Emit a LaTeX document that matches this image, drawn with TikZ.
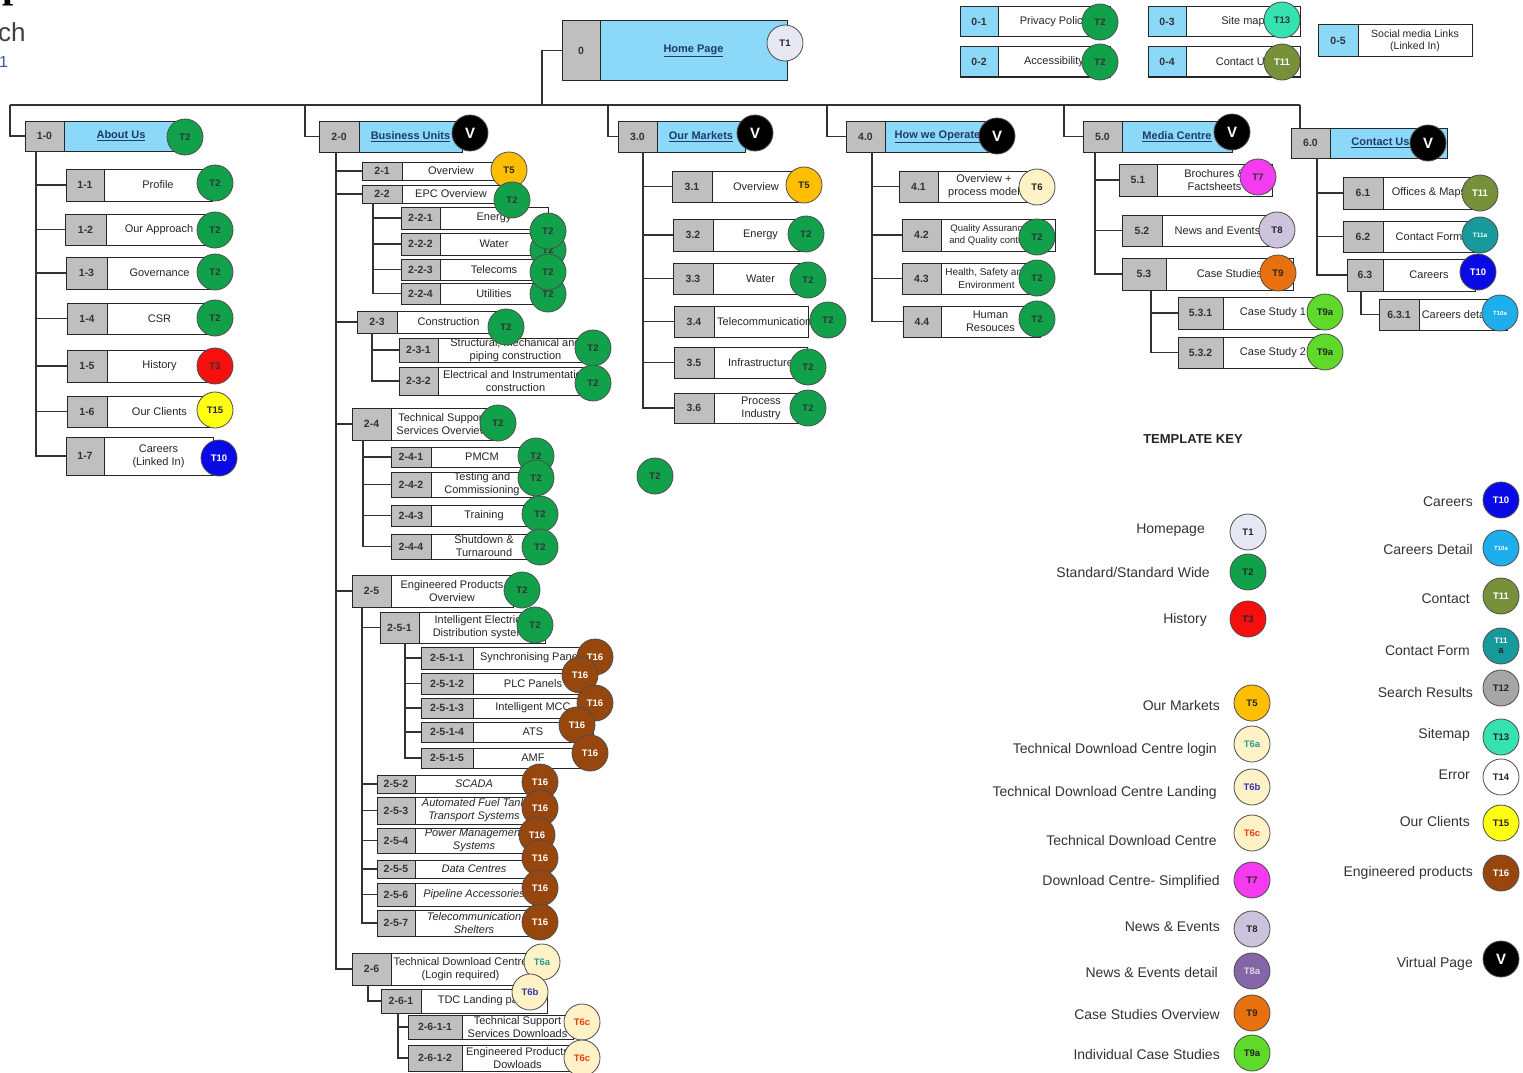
\documentclass[tikz,border=0pt]{standalone}
\usepackage{fontspec}
\setmainfont{Liberation Sans}
\newfontfamily\serifface{Liberation Serif}
\definecolor{idgrey}{HTML}{BFBFBF}
\definecolor{hdblue}{HTML}{8CD8F8}
\definecolor{navy}{HTML}{1F3A6E}
\definecolor{cT1}{HTML}{E6E8F4}
\definecolor{cT2}{HTML}{12A14B}
\definecolor{cT3}{HTML}{F50F0F}
\definecolor{cT5}{HTML}{FFBF00}
\definecolor{cT6}{HTML}{FFF2C6}
\definecolor{cT7}{HTML}{F53BF0}
\definecolor{cT8}{HTML}{CDC3DD}
\definecolor{cT8a}{HTML}{8466A8}
\definecolor{cT9}{HTML}{E8700E}
\definecolor{cT9a}{HTML}{5FD92A}
\definecolor{cT10}{HTML}{0A0AE6}
\definecolor{cT10a}{HTML}{1DAEEB}
\definecolor{cT11}{HTML}{77913A}
\definecolor{cT11a}{HTML}{179A9C}
\definecolor{cT12}{HTML}{A6A6A6}
\definecolor{cT13}{HTML}{35E3B1}
\definecolor{cT15}{HTML}{FFFF14}
\definecolor{cT16}{HTML}{97470E}
\definecolor{t6a}{HTML}{2A9D8F}
\definecolor{t6b}{HTML}{3333AA}
\definecolor{t6c}{HTML}{F03C14}
\definecolor{vercol}{HTML}{3A5A8A}
\tikzset{
 cell/.style={rectangle, draw=black!85, line width=1pt, inner sep=0pt, outer sep=0pt},
 idc/.style={cell, fill=idgrey, font=\bfseries\fontsize{10.5}{12}\selectfont, text=black!80},
 idb/.style={cell, fill=hdblue, font=\bfseries\fontsize{10.5}{12}\selectfont, text=black!80},
 lbc/.style={cell, fill=white},
 hdc/.style={cell, fill=hdblue},
 lbt/.style={inner sep=0pt, align=center, font=\fontsize{11}{13}\selectfont, text=black!85},
 conn/.style={draw=black!80, line width=1.2pt},
 bdg/.style={circle, draw=black!70, line width=0.8pt, minimum size=36pt, inner sep=0pt, align=center, font=\bfseries\fontsize{9.5}{10}\selectfont, text=black!85},
 keyt/.style={anchor=east, inner sep=0pt, font=\fontsize{14}{16}\selectfont, text=black!80},
}
\newcommand\hd[1]{{\bfseries\color{navy}\underline{#1}}}
\newcommand\pg[9][]{%
 \node[idc, minimum width={#5-#3}, minimum height={#7-#4}] (#2i) at ({(#3+#5)/2},{(#4+#7)/2}) {#8};
 \node[lbc, minimum width={#6-#5}, minimum height={#7-#4}] (#2) at ({(#5+#6)/2},{(#4+#7)/2}) {};
 \node[lbt,#1] (#2t) at (#2.center) {#9};}
\newcommand\hg[9][]{%
 \node[idc, minimum width={#5-#3}, minimum height={#7-#4}] (#2i) at ({(#3+#5)/2},{(#4+#7)/2}) {#8};
 \node[hdc, minimum width={#6-#5}, minimum height={#7-#4}] (#2) at ({(#5+#6)/2},{(#4+#7)/2}) {};
 \node[lbt,#1] (#2t) at (#2.center) {#9};}
\newcommand\ug[9][]{%
 \node[idb, minimum width={#5-#3}, minimum height={#7-#4}] (#2i) at ({(#3+#5)/2},{(#4+#7)/2}) {#8};
 \node[lbc, minimum width={#6-#5}, minimum height={#7-#4}] (#2) at ({(#5+#6)/2},{(#4+#7)/2}) {};
 \node[lbt,#1] (#2t) at (#2.center) {#9};}
\newcommand\bd[6]{\node[bdg, fill=#4, text=#5] (#1) at (#2,#3) {#6};}
\newcommand\ch[3]{\draw[conn] ([xshift=#2pt]#1i.south west) |- (#3i.west);}
\newcommand\kk[8]{\node[keyt] (#1t) at (#3,#4) {#2}; \node[bdg, fill=#7] (#1) at (#5,#6) {#8};}
\begin{document}
\begin{tikzpicture}[x=1pt,y=-1pt]
\useasboundingbox (0,0) rectangle (1523,1073);
\fill[white] (0,0) rectangle (1523,1073);
\clip (0,0) rectangle (1523,1073);
% title fragments
\node[anchor=base west, inner sep=0pt, font=\serifface\bfseries\fontsize{40}{40}\selectfont] (ttp) at (2,-2) {p};
\node[anchor=west, inner sep=0pt, font=\fontsize{26}{28}\selectfont, text=black!75] (ttl) at (-2,32) {ch};
\node[anchor=west, inner sep=0pt, font=\fontsize{16}{18}\selectfont, text=vercol] (ver) at (-1,62) {1};
% ---------- boxes ----------
\hg{home}{562}{21}{600}{787}{80}{0}{\hd{Home Page}}
\ug{u1}{960}{7}{998}{1110}{37}{0-1}{Privacy Policy}
\ug{u2}{960}{47}{998}{1110}{77}{0-2}{Accessibility}
\ug{u3}{1148}{7}{1186}{1300}{37}{0-3}{Site map}
\ug{u4}{1148}{47}{1186}{1300}{77}{0-4}{Contact Us}
\ug[font=\fontsize{10.5}{12.5}\selectfont]{u5}{1318}{25}{1358}{1472}{57}{0-5}{Social media Links\\(Linked In)}
% section 1
\hg{s1}{25}{121}{64}{178}{151}{1-0}{\hd{About Us}}
\pg{s11}{66}{169}{104}{212}{201}{1-1}{Profile}
\pg{s12}{65}{214}{106}{212}{245}{1-2}{Our Approach}
\pg{s13}{66}{257}{107}{212}{289}{1-3}{Governance}
\pg{s14}{67}{303}{107}{212}{334}{1-4}{CSR}
\pg{s15}{67}{350}{107}{212}{382}{1-5}{History}
\pg{s16}{67}{396}{107}{212}{427}{1-6}{Our Clients}
\pg{s17}{66}{437}{104}{213}{475}{1-7}{Careers\\(Linked In)}
% section 2
\hg{s2}{319}{121}{359}{462}{152}{2-0}{\hd{Business Units}}
\pg{s21}{362}{162}{402}{500}{180}{2-1}{Overview}
\pg{s22}{362}{185}{402}{500}{203}{2-2}{EPC Overview}
\pg{s221}{401}{207}{440}{548}{229}{2-2-1}{Energy}
\pg{s222}{401}{233}{440}{548}{255}{2-2-2}{Water}
\pg{s223}{401}{259}{440}{548}{280}{2-2-3}{Telecoms}
\pg{s224}{401}{283}{440}{548}{304}{2-2-4}{Utilities}
\pg{s23}{357}{311}{397}{500}{333}{2-3}{Construction}
\pg{s231}{399}{338}{438}{593}{362}{2-3-1}{Structural, mechanical and\\piping construction}
\pg{s232}{399}{367}{438}{593}{395}{2-3-2}{Electrical and Instrumentation\\construction}
\pg{s24}{352}{408}{391}{493}{440}{2-4}{Technical Support\\Services Overview}
\pg{s241}{391}{447}{431}{533}{467}{2-4-1}{PMCM}
\pg{s242}{391}{472}{431}{533}{497}{2-4-2}{Testing and\\Commissioning}
\pg{s243}{391}{505}{431}{537}{526}{2-4-3}{Training}
\pg{s244}{391}{534}{431}{537}{559}{2-4-4}{Shutdown \&\\Turnaround}
\pg{s25}{352}{575}{391}{513}{607}{2-5}{Engineered Products\\Overview}
\pg{s251}{380}{612}{419}{545}{643}{2-5-1}{Intelligent Electrical\\Distribution systems}
\pg{s2511}{421}{647}{473}{593}{669}{2-5-1-1}{Synchronising Panels}
\pg{s2512}{421}{673}{473}{593}{694}{2-5-1-2}{PLC Panels}
\pg{s2513}{421}{698}{473}{593}{718}{2-5-1-3}{Intelligent MCC}
\pg{s2514}{421}{722}{473}{593}{742}{2-5-1-4}{ATS}
\pg{s2515}{421}{748}{473}{593}{768}{2-5-1-5}{AMF}
\pg[font=\itshape\fontsize{11}{13}\selectfont]{s252}{377}{775}{415}{533}{793}{2-5-2}{SCADA}
\pg[font=\itshape\fontsize{11}{13}\selectfont]{s253}{377}{797}{415}{533}{824}{2-5-3}{Automated Fuel Tank\\Transport Systems}
\pg[font=\itshape\fontsize{11}{13}\selectfont]{s254}{377}{828}{415}{533}{853}{2-5-4}{Power Management\\Systems}
\pg[font=\itshape\fontsize{11}{13}\selectfont]{s255}{377}{860}{415}{533}{878}{2-5-5}{Data Centres}
\pg[font=\itshape\fontsize{11}{13}\selectfont]{s256}{377}{883}{415}{533}{906}{2-5-6}{Pipeline Accessories}
\pg[font=\itshape\fontsize{11}{13}\selectfont]{s257}{377}{910}{415}{533}{936}{2-5-7}{Telecommunication\\Shelters}
\pg{s26}{352}{953}{391}{530}{985}{2-6}{Technical Download Centre\\(Login required)}
\pg{s261}{381}{989}{421}{547}{1013}{2-6-1}{TDC Landing page}
\pg{s2611}{408}{1015}{462}{573}{1039}{2-6-1-1}{Technical Support\\Services Downloads}
\pg{s2612}{408}{1045}{462}{573}{1071}{2-6-1-2}{Engineered Products\\Dowloads}
% section 3
\hg{s3}{618}{121}{657}{745}{152}{3.0}{\hd{Our Markets}}
\pg{s31}{672}{171}{712}{800}{202}{3.1}{Overview}
\pg{s32}{673}{219}{713}{808}{251}{3.2}{Energy}
\pg{s33}{673}{263}{713}{808}{294}{3.3}{Water}
\pg[xshift=6pt]{s34}{674}{306}{714}{808}{337}{3.4}{Telecommunications}
\pg{s35}{674}{347}{714}{807}{378}{3.5}{Infrastructure}
\pg{s36}{674}{393}{714}{808}{423}{3.6}{Process\\Industry}
% section 4
\hg{s4}{846}{121}{885}{990}{152}{4.0}{\hd{How we Operate}}
\pg{s41}{899}{171}{938}{1030}{202}{4.1}{Overview +\\process model}
\pg[font=\fontsize{9.5}{12}\selectfont, xshift=-9pt]{s42}{902}{219}{941}{1055}{251}{4.2}{Quality Assurance\\and Quality control}
\pg[font=\fontsize{10}{12.5}\selectfont, xshift=-4pt]{s43}{902}{263}{941}{1040}{294}{4.3}{Health, Safety and\\Environment}
\pg{s44}{903}{306}{941}{1040}{337}{4.4}{Human\\Resouces}
% section 5
\hg{s5}{1083}{121}{1122}{1232}{152}{5.0}{\hd{Media Centre}}
\pg{s51}{1119}{164}{1157}{1272}{196}{5.1}{Brochures \&\\Factsheets}
\pg{s52}{1122}{215}{1162}{1273}{246}{5.2}{News and Events}
\pg{s53}{1122}{258}{1166}{1293}{290}{5.3}{Case Studies}
\pg{s531}{1178}{297}{1223}{1323}{329}{5.3.1}{Case Study 1}
\pg{s532}{1178}{337}{1223}{1323}{368}{5.3.2}{Case Study 2}
% section 6
\hg[xshift=-8pt]{s6}{1291}{128}{1330}{1447}{158}{6.0}{\hd{Contact Us}}
\pg{s61}{1343}{177}{1383}{1475}{209}{6.1}{Offices \& Maps}
\pg{s62}{1343}{221}{1383}{1475}{252}{6.2}{Contact Form}
\pg{s63}{1347}{259}{1383}{1475}{291}{6.3}{Careers}
\pg[xshift=-7pt]{s631}{1379}{299}{1419}{1507}{330}{6.3.1}{Careers detail}
% ---------- connectors ----------
\coordinate (bj) at (542,105);
\coordinate (busL) at (10,105);
\coordinate (busR) at (1300,105);
\coordinate (d2) at (305,105);
\coordinate (d3) at (608,105);
\coordinate (d4) at (827,105);
\coordinate (d5) at (1064,105);
\draw[conn] (homei.west) -| (bj);
\draw[conn] (busL) -- (busR);
\draw[conn] (busL) |- (s1i.west);
\draw[conn] (d2) |- (s2i.west);
\draw[conn] (d3) |- (s3i.west);
\draw[conn] (d4) |- (s4i.west);
\draw[conn] (d5) |- (s5i.west);
\draw[conn] (busR) -- (busR |- s6i.north);
\foreach \c in {s11,s12,s13,s14,s15,s16,s17} {\ch{s1}{11}{\c}}
\foreach \c in {s21,s22,s23,s24,s25,s26} {\ch{s2}{17}{\c}}
\foreach \c in {s221,s222,s223,s224} {\ch{s22}{11}{\c}}
\foreach \c in {s231,s232} {\ch{s23}{15}{\c}}
\foreach \c in {s241,s242,s243,s244} {\ch{s24}{11}{\c}}
\foreach \c in {s251,s252,s253,s254,s255,s256,s257} {\ch{s25}{10}{\c}}
\foreach \c in {s2511,s2512,s2513,s2514,s2515} {\ch{s251}{25}{\c}}
\ch{s26}{16}{s261}
\foreach \c in {s2611,s2612} {\ch{s261}{17}{\c}}
\foreach \c in {s31,s32,s33,s34,s35,s36} {\ch{s3}{25}{\c}}
\foreach \c in {s41,s42,s43,s44} {\ch{s4}{26}{\c}}
\foreach \c in {s51,s52,s53} {\ch{s5}{12}{\c}}
\foreach \c in {s531,s532} {\ch{s53}{29}{\c}}
\foreach \c in {s61,s62,s63} {\ch{s6}{26}{\c}}
\ch{s63}{14}{s631}
% ---------- badges ----------
\bd{bhome}{785}{43}{cT1}{black!85}{T1}
\bd{bu1}{1100}{22}{cT2}{black!80}{T2}
\bd{bu2}{1100}{62}{cT2}{black!80}{T2}
\bd{bu3}{1282}{20}{cT13}{black!80}{T13}
\bd{bu4}{1282}{62}{cT11}{white}{T11}
\bd{bs1}{185}{137}{cT2}{black!80}{T2}
\bd{bs11}{215}{183}{cT2}{black!80}{T2}
\bd{bs12}{215}{230}{cT2}{black!80}{T2}
\bd{bs13}{215}{272}{cT2}{black!80}{T2}
\bd{bs14}{215}{318}{cT2}{black!80}{T2}
\bd{bs15}{215}{366}{cT3}{black!80}{T3}
\bd{bs16}{215}{410}{cT15}{black!85}{T15}
\bd{bs17}{219}{458}{cT10}{white}{T10}
\bd{bs2}{470}{133}{black}{white}{\fontsize{15}{15}\selectfont V}
\bd{bs21}{509}{170}{cT5}{black!85}{T5}
\bd{bs22}{512}{200}{cT2}{black!80}{T2}
\bd{bs222}{548}{250}{cT2}{black!80}{T2}
\bd{bs224}{548}{294}{cT2}{black!80}{T2}
\bd{bs221}{548}{231}{cT2}{black!80}{T2}
\bd{bs223}{548}{272}{cT2}{black!80}{T2}
\bd{bs23}{506}{327}{cT2}{black!80}{T2}
\bd{bs231}{593}{348}{cT2}{black!80}{T2}
\bd{bs232}{593}{383}{cT2}{black!80}{T2}
\bd{bs24}{498}{423}{cT2}{black!80}{T2}
\bd{bs241}{536}{456}{cT2}{black!80}{T2}
\bd{bs242}{536}{478}{cT2}{black!80}{T2}
\bd{bs243}{540}{514}{cT2}{black!80}{T2}
\bd{bs244}{540}{547}{cT2}{black!80}{T2}
\bd{bstray}{655}{476}{cT2}{black!80}{T2}
\bd{bs25}{522}{590}{cT2}{black!80}{T2}
\bd{bs251}{535}{625}{cT2}{black!80}{T2}
\bd{bs2511}{595}{657}{cT16}{white}{T16}
\bd{bs2512}{580}{675}{cT16}{white}{T16}
\bd{bs2513}{595}{703}{cT16}{white}{T16}
\bd{bs2514}{577}{725}{cT16}{white}{T16}
\bd{bs2515}{590}{753}{cT16}{white}{T16}
\bd{bs252}{540}{782}{cT16}{white}{T16}
\bd{bs253}{540}{808}{cT16}{white}{T16}
\bd{bs254}{537}{835}{cT16}{white}{T16}
\bd{bs255}{540}{858}{cT16}{white}{T16}
\bd{bs256}{540}{888}{cT16}{white}{T16}
\bd{bs257}{540}{922}{cT16}{white}{T16}
\bd{bs26}{542}{962}{cT6}{t6a}{T6a}
\bd{bs261}{530}{992}{cT6}{t6b}{T6b}
\bd{bs2611}{582}{1022}{cT6}{t6c}{T6c}
\bd{bs2612}{582}{1058}{cT6}{t6c}{T6c}
\bd{bs3}{755}{133}{black}{white}{\fontsize{15}{15}\selectfont V}
\bd{bs31}{804}{185}{cT5}{black!85}{T5}
\bd{bs32}{806}{234}{cT2}{black!80}{T2}
\bd{bs33}{808}{280}{cT2}{black!80}{T2}
\bd{bs34}{828}{320}{cT2}{black!80}{T2}
\bd{bs35}{808}{367}{cT2}{black!80}{T2}
\bd{bs36}{808}{408}{cT2}{black!80}{T2}
\bd{bs4}{997}{136}{black}{white}{\fontsize{15}{15}\selectfont V}
\bd{bs41}{1037}{187}{cT6}{black!85}{T6}
\bd{bs42}{1037}{237}{cT2}{black!80}{T2}
\bd{bs43}{1037}{278}{cT2}{black!80}{T2}
\bd{bs44}{1037}{319}{cT2}{black!80}{T2}
\bd{bs5}{1232}{132}{black}{white}{\fontsize{15}{15}\selectfont V}
\bd{bs51}{1258}{177}{cT7}{black!80}{T7}
\bd{bs52}{1277}{230}{cT8}{black!85}{T8}
\bd{bs53}{1278}{273}{cT9}{black!85}{T9}
\bd{bs531}{1325}{312}{cT9a}{black!85}{T9a}
\bd{bs532}{1325}{352}{cT9a}{black!85}{T9a}
\bd{bs6}{1428}{143}{black}{white}{\fontsize{15}{15}\selectfont V}
\bd{bs61}{1480}{193}{cT11}{white}{T11}
\bd{bs62}{1480}{235}{cT11a}{white}{\fontsize{6.5}{7}\selectfont T11a}
\bd{bs63}{1478}{272}{cT10}{white}{T10}
\bd{bs631}{1500}{313}{cT10a}{white}{\fontsize{6}{7}\selectfont T10a}
% ---------- template key ----------
\node[inner sep=0pt, font=\bfseries\fontsize{13}{15}\selectfont, text=black!85] (keytitle) at (1193,439) {TEMPLATE KEY};
\kk{k1}{Homepage}{1205}{530}{1248}{532}{cT1}{T1}
\kk{k2}{Standard/Standard Wide}{1210}{572}{1248}{572}{cT2}{T2}
\kk{k3}{History}{1207}{620}{1248}{619}{cT3}{T3}
\kk{k5}{Our Markets}{1220}{705}{1252}{703}{cT5}{T5}
\kk{k6a}{Technical Download Centre login}{1217}{750}{1252}{744}{cT6}{\color{t6a}T6a}
\kk{k6b}{Technical Download Centre Landing}{1217}{793}{1252}{787}{cT6}{\color{t6b}T6b}
\kk{k6c}{Technical Download Centre}{1217}{840}{1252}{833}{cT6}{\color{t6c}T6c}
\kk{k7}{Download Centre- Simplified}{1220}{882}{1252}{880}{cT7}{T7}
\kk{k8}{News \& Events}{1220}{927}{1252}{929}{cT8}{T8}
\kk{k8a}{News \& Events detail}{1218}{972}{1252}{971}{cT8a}{\color{white!85!black}T8a}
\kk{k9}{Case Studies Overview}{1220}{1014}{1252}{1013}{cT9}{T9}
\kk{k9a}{Individual Case Studies}{1220}{1054}{1252}{1053}{cT9a}{T9a}
\kk{k10}{Careers}{1473}{502}{1501}{500}{cT10}{\color{white}T10}
\kk{k10a}{Careers Detail}{1473}{549}{1501}{548}{cT10a}{\color{white}\fontsize{6}{7}\selectfont T10a}
\kk{k11}{Contact}{1470}{599}{1501}{596}{cT11}{\color{white}T11}
\kk{k11a}{Contact Form}{1470}{651}{1501}{646}{cT11a}{\color{white}\fontsize{8}{8}\selectfont T11\\a}
\kk{k12}{Search Results}{1473}{692}{1501}{688}{cT12}{T12}
\kk{k13}{Sitemap}{1470}{735}{1501}{737}{cT13}{T13}
\kk{k14}{Error}{1470}{775}{1501}{777}{white}{T14}
\kk{k15}{Our Clients}{1470}{821}{1501}{823}{cT15}{T15}
\kk{k16}{Engineered products}{1473}{873}{1501}{873}{cT16}{\color{white}T16}
\kk{kv}{Virtual Page}{1473}{964}{1501}{959}{black}{\color{white}\fontsize{15}{15}\selectfont V}
\end{tikzpicture}
\end{document}
